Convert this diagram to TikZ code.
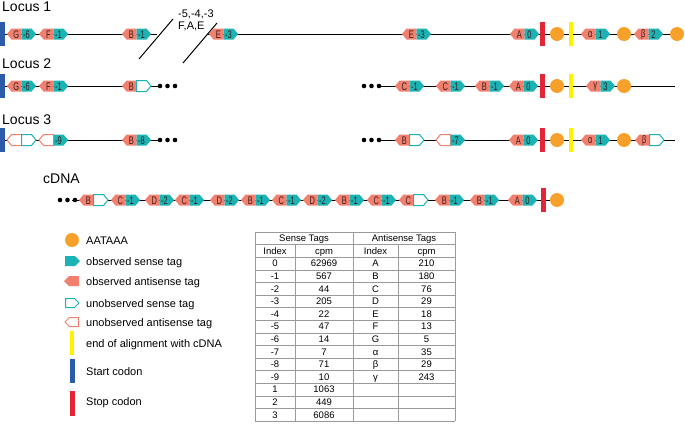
\documentclass[tikz,border=0pt]{standalone}
\usepackage{fontspec}
\setmainfont{Liberation Sans}
\usepackage{graphicx}
\definecolor{salmon}{HTML}{F2806F}
\definecolor{tealc}{HTML}{1BB3B3}
\definecolor{orangec}{HTML}{F7A12A}
\definecolor{yellowc}{HTML}{FFF200}
\definecolor{bluec}{HTML}{2C5BA9}
\definecolor{redc}{HTML}{E42535}
\definecolor{tagtxt}{HTML}{3A1E1E}
\definecolor{gridc}{HTML}{9A9A9A}
\tikzset{
  antiobs/.style={fill=salmon},
  senseobs/.style={fill=tealc},
  antiun/.style={draw=salmon, fill=white, line width=1pt},
  senseun/.style={draw=tealc, fill=white, line width=1pt},
  taglbl/.style={inner sep=0pt, text=tagtxt, font=\fontsize{11}{11}\selectfont},
  dna/.style={line width=1pt, black},
  polyA/.style={fill=orangec},
  seqdot/.style={fill=black},
  locuslbl/.style={anchor=base west, inner sep=0pt, font=\fontsize{14}{14}\selectfont},
  legtxt/.style={anchor=base west, inner sep=0pt, font=\fontsize{11}{11}\selectfont},
  smalltxt/.style={anchor=base west, inner sep=0pt, font=\fontsize{11}{11}\selectfont},
  tabtxt/.style={anchor=base, inner sep=0pt, font=\fontsize{9.5}{9.5}\selectfont},
  gridline/.style={draw=gridc, line width=0.6pt},
}
\newcommand\cz[1]{\scalebox{0.68}[1]{#1}}
% tag pair: x, y, antisense style, sense style, left label, right label
\newcommand\tagpair[6]{%
  \path[#3] ({#1},{#2}) -- ++(4.5,-5.5) -- ++(10,0) -- ++(0,11) -- ++(-10,0) -- cycle;
  \path[#4] ({#1+14.5},{#2-5.5}) -- ++(10,0) -- ++(4.5,5.5) -- ++(-4.5,5.5) -- ++(-10,0) -- cycle;
  \node[taglbl] at ({#1+9.3},{#2+0.3}) {\cz{#5}};
  \node[taglbl] at ({#1+19.5},{#2+0.3}) {\cz{#6}};
}
% vertical bar: colour, x centre, y centre, width
\newcommand\vbar[4]{\fill[#1] ({#2-#4/2},{#3-12}) rectangle ({#2+#4/2},{#3+12});}
\newcommand\threedots[2]{%
  \foreach \dx in {0,7.5,15} {\fill[seqdot] ({#1+\dx},{#2}) circle (2.3);}
}
% table row: row number, four cells
\newcommand\trow[5]{%
  \node[tabtxt] at (275,{266.9+12.6*#1}) {#2};
  \node[tabtxt] at (324,{266.9+12.6*#1}) {#3};
  \node[tabtxt] at (375.5,{266.9+12.6*#1}) {#4};
  \node[tabtxt] at (426.5,{266.9+12.6*#1}) {#5};
}
\begin{document}
\begin{tikzpicture}[x=1pt,y=-1pt]
\useasboundingbox (0,0) rectangle (685,423);

% ---------------- Locus 1 ----------------
\node[locuslbl] (l1) at (2,12) {Locus 1};
\draw[dna] (5,34) -- (157,34);
\draw[dna] (207,34) -- (677,34);
\draw[dna] (139,59) -- (173,19);
\draw[dna] (183,63) -- (217,23);
\node[smalltxt] (gapa) at (178,17) {-5,-4,-3};
\node[smalltxt] (gapb) at (178,29) {F,A,E};
\fill[bluec] (0,22) rectangle (5,46);
\tagpair{7}{34}{antiobs}{senseobs}{G}{-6}
\tagpair{39}{34}{antiobs}{senseobs}{F}{-1}
\tagpair{122}{34}{antiobs}{senseobs}{B}{-1}
\tagpair{209}{34}{antiobs}{senseobs}{E}{-3}
\tagpair{402}{34}{antiobs}{senseobs}{E}{-3}
\tagpair{510}{34}{antiobs}{senseobs}{A}{0}
\vbar{redc}{542}{34}{5}
\fill[polyA] (557,34) circle (7);
\vbar{yellowc}{571}{34}{4}
\tagpair{581}{34}{antiobs}{senseobs}{α}{1}
\fill[polyA] (624,34) circle (7);
\tagpair{634}{34}{antiobs}{senseobs}{β}{2}
\fill[polyA] (677,34) circle (7);

% ---------------- Locus 2 ----------------
\node[locuslbl] (l2) at (2,68) {Locus 2};
\draw[dna] (5,86) -- (160,86);
\draw[dna] (380,86) -- (675,86);
\fill[bluec] (0,74) rectangle (5,98);
\tagpair{7}{86}{antiobs}{senseobs}{G}{-6}
\tagpair{39}{86}{antiobs}{senseobs}{F}{-1}
\tagpair{122}{86}{antiobs}{senseun}{B}{}
\threedots{160}{86}
\threedots{364}{86}
\tagpair{395}{86}{antiobs}{senseobs}{C}{-1}
\tagpair{436}{86}{antiobs}{senseobs}{C}{-1}
\tagpair{475}{86}{antiobs}{senseobs}{B}{-1}
\tagpair{509}{86}{antiobs}{senseobs}{A}{0}
\vbar{redc}{542}{86}{5}
\fill[polyA] (557,86) circle (7);
\vbar{yellowc}{571}{86}{4}
\tagpair{586}{86}{antiobs}{senseobs}{γ}{3}
\fill[polyA] (624,86) circle (7);

% ---------------- Locus 3 ----------------
\node[locuslbl] (l3) at (2,124) {Locus 3};
\draw[dna] (5,140) -- (160,140);
\draw[dna] (380,140) -- (675,140);
\fill[bluec] (0,128) rectangle (5,152);
\tagpair{7}{140}{antiun}{senseun}{}{}
\tagpair{39}{140}{antiun}{senseobs}{}{-9}
\tagpair{122}{140}{antiobs}{senseobs}{B}{-8}
\threedots{160}{140}
\threedots{364}{140}
\tagpair{395}{140}{antiobs}{senseun}{B}{}
\tagpair{436}{140}{antiun}{senseobs}{}{-7}
\tagpair{509}{140}{antiobs}{senseobs}{A}{0}
\vbar{redc}{542}{140}{5}
\fill[polyA] (557,140) circle (7);
\vbar{yellowc}{571}{140}{4}
\tagpair{581}{140}{antiobs}{senseobs}{α}{1}
\fill[polyA] (624,140) circle (7);
\tagpair{635}{140}{antiobs}{senseun}{β}{}

% ---------------- cDNA ----------------
\node[locuslbl] (cd) at (43,183.5) {cDNA};
\draw[dna] (72,200) -- (557,200);
\threedots{60}{200}
\tagpair{79}{200}{antiobs}{senseun}{B}{}
\tagpair{111}{200}{antiobs}{senseobs}{C}{-1}
\tagpair{145}{200}{antiobs}{senseobs}{D}{-2}
\tagpair{175}{200}{antiobs}{senseobs}{C}{-1}
\tagpair{210}{200}{antiobs}{senseobs}{D}{-2}
\tagpair{241}{200}{antiobs}{senseobs}{B}{-1}
\tagpair{272}{200}{antiobs}{senseobs}{C}{-1}
\tagpair{303}{200}{antiobs}{senseobs}{D}{-2}
\tagpair{335}{200}{antiobs}{senseobs}{B}{-1}
\tagpair{367}{200}{antiobs}{senseobs}{C}{-1}
\tagpair{399}{200}{antiobs}{senseun}{C}{}
\tagpair{435}{200}{antiobs}{senseobs}{B}{-1}
\tagpair{470}{200}{antiobs}{senseobs}{B}{-1}
\tagpair{508}{200}{antiobs}{senseobs}{A}{0}
\vbar{redc}{543}{200}{5}
\fill[polyA] (557,200) circle (7);

% ---------------- Legend ----------------
\fill[polyA] (72,240) circle (7);
\node[legtxt] (lg1) at (86,244) {AATAAA};
\path[senseobs] (65,256) -- (75,256) -- (80,261) -- (75,266) -- (65,266) -- cycle;
\node[legtxt] (lg2) at (86,265) {observed sense tag};
\path[antiobs] (79,276) -- (69,276) -- (64,281) -- (69,286) -- (79,286) -- cycle;
\node[legtxt] (lg3) at (86,285) {observed antisense tag};
\path[senseun] (65.5,298.5) -- (74.5,298.5) -- (79,303) -- (74.5,307.5) -- (65.5,307.5) -- cycle;
\node[legtxt] (lg4) at (86,307) {unobserved sense tag};
\path[antiun] (78.5,317.5) -- (69.5,317.5) -- (65,322) -- (69.5,326.5) -- (78.5,326.5) -- cycle;
\node[legtxt] (lg5) at (86,326) {unobserved antisense tag};
\fill[yellowc] (70,331) rectangle (74,355);
\node[legtxt] (lg6) at (86,347) {end of alignment with cDNA};
\fill[bluec] (69.5,359) rectangle (74.5,383);
\node[legtxt] (lg7) at (86,375) {Start codon};
\fill[redc] (69.5,391) rectangle (74.5,416);
\node[legtxt] (lg8) at (86,405.5) {Stop codon};

% ---------------- Table ----------------
\foreach \k in {0,...,15} {\draw[gridline] (255,{232+12.6*\k}) -- (455,{232+12.6*\k});}
\draw[gridline] (255,232) -- (255,421);
\draw[gridline] (455,232) -- (455,421);
\draw[gridline] (353,232) -- (353,421);
\draw[gridline] (295,244.6) -- (295,421);
\draw[gridline] (398,244.6) -- (398,421);
\node[tabtxt] (th1) at (304,241.7) {Sense Tags};
\node[tabtxt] (th2) at (404,241.7) {Antisense Tags};
\node[tabtxt] (th3) at (275,254.3) {Index};
\node[tabtxt] (th4) at (324,254.3) {cpm};
\node[tabtxt] (th5) at (375.5,254.3) {Index};
\node[tabtxt] (th6) at (426.5,254.3) {cpm};
\trow{0}{0}{62969}{A}{210}
\trow{1}{-1}{567}{B}{180}
\trow{2}{-2}{44}{C}{76}
\trow{3}{-3}{205}{D}{29}
\trow{4}{-4}{22}{E}{18}
\trow{5}{-5}{47}{F}{13}
\trow{6}{-6}{14}{G}{5}
\trow{7}{-7}{7}{α}{35}
\trow{8}{-8}{71}{β}{29}
\trow{9}{-9}{10}{γ}{243}
\trow{10}{1}{1063}{}{}
\trow{11}{2}{449}{}{}
\trow{12}{3}{6086}{}{}
\end{tikzpicture}
\end{document}
